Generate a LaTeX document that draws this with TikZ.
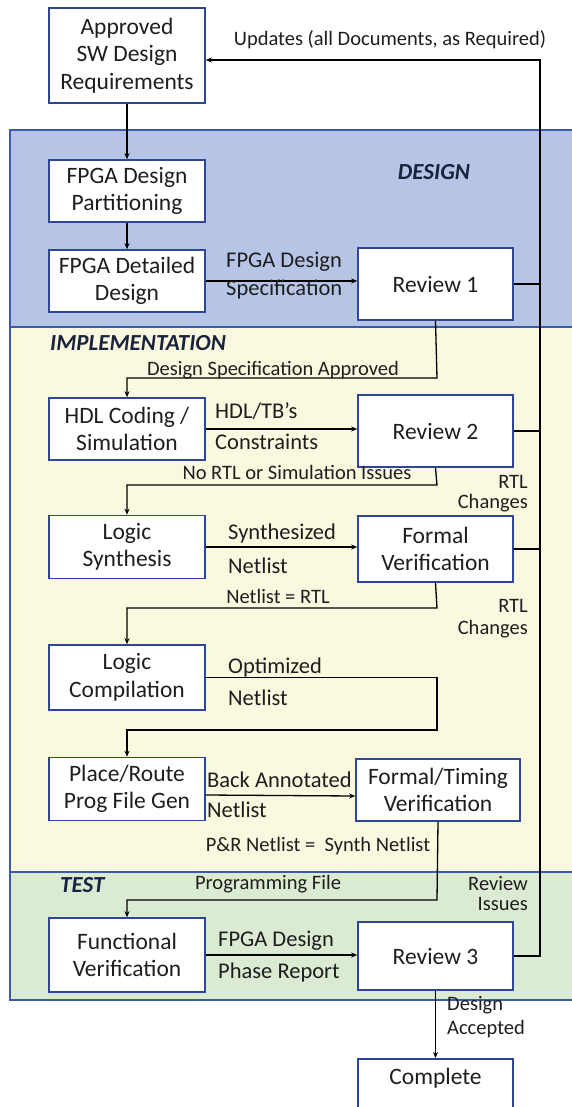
\documentclass[tikz,border=0pt]{standalone}
\usepackage{fontspec}
\setmainfont{Carlito}
\usetikzlibrary{arrows.meta,calc}
\definecolor{bandblue}{RGB}{182,197,229}
\definecolor{bandyellow}{RGB}{250,249,224}
\definecolor{bandgreen}{RGB}{219,234,210}
\definecolor{bandedge}{RGB}{60,90,170}
\definecolor{boxedge}{RGB}{45,70,150}
\definecolor{txt}{RGB}{30,30,30}
\definecolor{head}{RGB}{25,35,60}
\begin{document}
\begin{tikzpicture}[x=1pt,y=-1pt,
  box/.style={draw=boxedge, line width=1.6pt, fill=white, align=center, text=txt,
     font=\fontsize{23.5}{27.5}\selectfont, inner sep=0pt},
  lbox/.style={box, minimum width=156pt},
  rbox/.style={box, minimum width=155pt},
  conn/.style={draw=black, line width=1.3pt, -{Stealth[length=6pt,width=5pt]}},
  plain/.style={draw=black, line width=1.3pt},
  big/.style={text=txt, font=\fontsize{22.5}{27}\selectfont, inner sep=0pt},
  small/.style={text=txt, font=\fontsize{20.5}{24}\selectfont, inner sep=0pt},
  heading/.style={text=head, font=\fontsize{23}{27}\selectfont\bfseries\itshape, inner sep=0pt}
]
\useasboundingbox (0,0) rectangle (571,1107);
\fill[white] (0,0) rectangle (571,1107);
% bands
\fill[bandblue] (10,130) rectangle (580,327);
\fill[bandyellow] (10,327) rectangle (580,872);
\fill[bandgreen] (10,872) rectangle (580,1000);
\draw[bandedge, line width=1.6pt] (580,130) -- (10,130) -- (10,1000) -- (580,1000);
\draw[bandedge, line width=2pt] (10,327) -- (580,327);
\draw[bandedge, line width=1.4pt] (10,872) -- (580,872);

% headings
\node[heading] (hdesign) at (434,172) {DESIGN};
\node[heading, anchor=west] (himpl) at (50,343) {IMPLEMENTATION};
\node[heading, anchor=west] (htest) at (60,885) {TEST};

% boxes
\node[lbox, minimum height=95pt] (appr) at (127,55.5) {Approved\\SW Design\\Requirements};
\node[lbox, minimum height=62pt] (part) at (127,191) {FPGA Design\\Partitioning};
\node[lbox, minimum height=62pt] (det) at (127,281) {FPGA Detailed\\Design};
\node[rbox, minimum height=72pt] (rev1) at (435.5,284) {Review 1};
\node[lbox, minimum height=62pt] (hdl) at (127,429) {HDL Coding /\\Simulation};
\node[rbox, minimum height=72pt] (rev2) at (435.5,431) {Review 2};
\node[lbox, minimum height=63pt] (ls) at (127,547) {Logic\\Synthesis};
\node[rbox, minimum height=66pt] (fv) at (435.5,549) {Formal\\Verification};
\node[lbox, minimum height=65pt] (lc) at (127,677.5) {Logic\\Compilation};
\node[lbox, minimum height=63pt] (pr) at (127,789) {Place/Route\\Prog File Gen};
\node[box, minimum width=164pt, minimum height=62pt] (ftv) at (438,790) {Formal/Timing\\Verification};
\node[lbox, minimum height=74pt] (func) at (127,955) {Functional\\Verification};
\node[rbox, minimum height=68pt] (rev3) at (435.5,956) {Review 3};
\node[rbox, minimum height=70pt, anchor=north] (comp) at (435.5,1058) {};
\node[box, draw=none, fill=none] (compt) at (435.5,1078) {Complete};

% coordinates
\coordinate (fb) at (540,60);
\coordinate (j1) at (437,378);
\coordinate (j2) at (437,485);
\coordinate (j3) at (437,608);
\coordinate (j4) at (437,730);
\coordinate (j5) at (437,900);

% connectors
\draw[conn] (appr) -- (part);
\draw[conn] (part) -- (det);
\draw[conn] (det.east) -- (det.east -| rev1.west);
\draw[conn] (rev1.south) -- (j1) -| (hdl.north);
\draw[conn] (hdl.east) -- (hdl.east -| rev2.west);
\draw[conn] (rev2.south) -- (j2) -| (ls.north);
\draw[conn] (ls.east) -- (ls.east -| fv.west);
\draw[conn] (fv.south) -- (j3) -| (lc.north);
\draw[conn] (lc.east) -| (j4) -| (pr.north);
\draw[conn] (pr.east) ++(0,6) -- ($(ftv.west)+(0,6)$);
\draw[conn] (ftv.south) -- (j5) -| (func.north);
\draw[conn] (func.east) -- (func.east -| rev3.west);
\draw[conn] (rev3.south) -- (comp.north);
\draw[conn] (rev3.east) -| (fb) -- (fb -| appr.east);
\draw[plain] (rev1.east) -- (rev1.east -| fb);
\draw[plain] (rev2.east) -- (rev2.east -| fb);
\draw[plain] (fv.east) -- (fv.east -| fb);

% labels
\node[small] (lupd) at (390,40) {Updates (all Documents, as Required)};
\node[big, anchor=west] (l1a) at (226,262) {FPGA Design};
\node[big, anchor=west] (l1b) at (226,290) {Specification};
\node[small] (l2) at (273,370) {Design Specification Approved};
\node[big, anchor=west] (l3a) at (215,411) {HDL/TB’s};
\node[big, anchor=west] (l3b) at (215,442) {Constraints};
\node[small] (l4) at (297,472) {No RTL or Simulation Issues};
\node[small, anchor=east] (l5a) at (528,482) {RTL};
\node[small, anchor=east] (l5b) at (528,503) {Changes};
\node[big, anchor=west] (l6a) at (228,533) {Synthesized};
\node[big, anchor=west] (l6b) at (228,566) {Netlist};
\node[small] (l7) at (278,596) {Netlist = RTL};
\node[small, anchor=east] (l8a) at (528,606) {RTL};
\node[small, anchor=east] (l8b) at (528,629) {Changes};
\node[big, anchor=west] (l9a) at (228,667) {Optimized};
\node[big, anchor=west] (l9b) at (228,698) {Netlist};
\node[big, anchor=west] (l10a) at (207,780) {Back Annotated};
\node[big, anchor=west] (l10b) at (207,810) {Netlist};
\node[small] (l11) at (318,846) {P\&R Netlist =\ \ Synth Netlist};
\node[small] (l12) at (268,884) {Programming File};
\node[small, anchor=east] (l13a) at (528,884) {Review};
\node[small, anchor=east] (l13b) at (528,904) {Issues};
\node[big, anchor=west] (l14a) at (218,941) {FPGA Design};
\node[big, anchor=west] (l14b) at (218,972) {Phase Report};
\node[small, anchor=west] (l15a) at (447,1005) {Design};
\node[small, anchor=west] (l15b) at (447,1029) {Accepted};
\end{tikzpicture}
\end{document}
